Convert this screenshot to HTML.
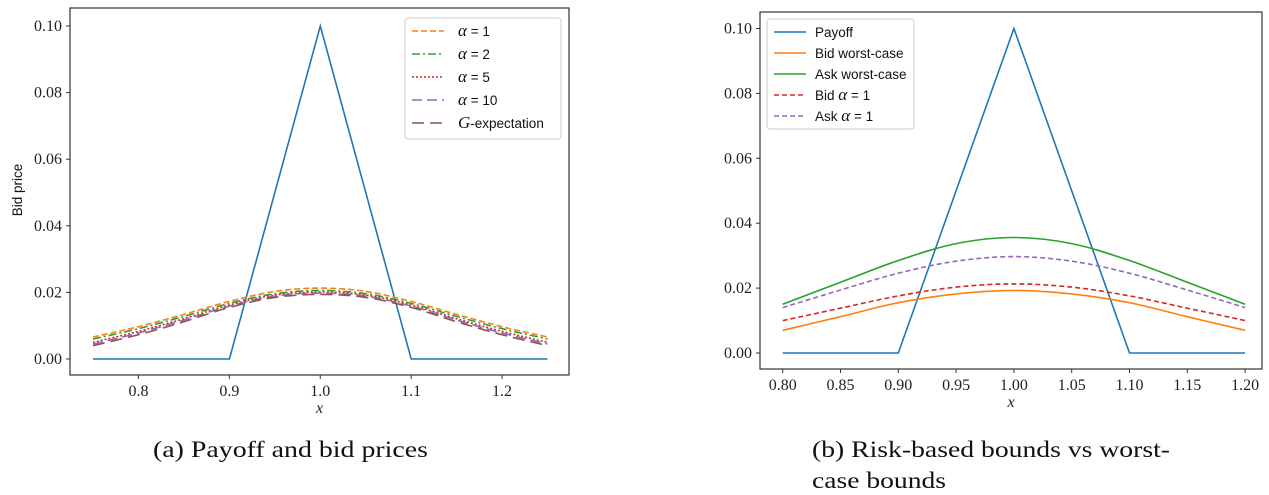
<!DOCTYPE html>
<html><head><meta charset="utf-8"><style>
body{margin:0;background:#fff;width:1269px;height:495px;overflow:hidden}
svg{display:block}
.t{font-family:"Liberation Serif",serif;font-size:16px;fill:#222}
.cap{font-family:"Liberation Serif",serif;font-size:23px;fill:#111}
.lg{font-family:"Liberation Sans",sans-serif;font-size:13.5px;fill:#111}
</style></head><body>
<svg id="s" width="1269" height="495"></svg>
<script>
const xsA=[0.75,0.8,0.85,0.9,0.95,1.0,1.05,1.1,1.15,1.2,1.25];
const payX=[0.75,0.9,1.0,1.1,1.25];
const payY=[0,0,0.1,0,0];
const a1=[0.0066,0.0097,0.0134,0.0173,0.0203,0.0213,0.0203,0.0173,0.0134,0.0097,0.0066];
const a2=[0.0060,0.0091,0.0128,0.0167,0.0196,0.0206,0.0196,0.0167,0.0128,0.0091,0.0060];
const a5=[0.0050,0.0083,0.0121,0.0162,0.0192,0.0201,0.0192,0.0162,0.0121,0.0083,0.0050];
const a10=[0.0045,0.0078,0.0117,0.0159,0.0189,0.0198,0.0189,0.0159,0.0117,0.0078,0.0045];
const gE=[0.0040,0.0073,0.0112,0.0155,0.0185,0.0194,0.0185,0.0155,0.0112,0.0073,0.0040];
const xTicksA=[0.8,0.9,1.0,1.1,1.2];
const yTicks=[0,0.02,0.04,0.06,0.08,0.10];
const xsB=[0.8,0.85,0.9,0.95,1.0,1.05,1.1,1.15,1.2];
const payXB=[0.8,0.9,1.0,1.1,1.2];
const bidW=[0.007,0.0112,0.0155,0.0182,0.0193,0.0182,0.0155,0.0112,0.007];
const askW=[0.015,0.0218,0.0285,0.0337,0.0356,0.0337,0.0285,0.0218,0.015];
const bidA=[0.010,0.0138,0.0176,0.0203,0.0213,0.0203,0.0176,0.0138,0.010];
const askA=[0.014,0.0194,0.0246,0.0283,0.0297,0.0283,0.0246,0.0194,0.014];
const xTicksB=[0.80,0.85,0.90,0.95,1.00,1.05,1.10,1.15,1.20];

const S=document.getElementById('s');const NS='http://www.w3.org/2000/svg';
function el(t,a,txt){const e=document.createElementNS(NS,t);for(const k in a)e.setAttribute(k,a[k]);if(txt!==undefined)e.textContent=txt;S.appendChild(e);return e;}
function smoothPath(P){let d='M'+P[0][0].toFixed(1)+','+P[0][1].toFixed(1);
 for(let i=0;i<P.length-1;i++){const p0=P[Math.max(0,i-1)],p1=P[i],p2=P[i+1],p3=P[Math.min(P.length-1,i+2)];
  const c1x=p1[0]+(p2[0]-p0[0])/6,c1y=p1[1]+(p2[1]-p0[1])/6,c2x=p2[0]-(p3[0]-p1[0])/6,c2y=p2[1]-(p3[1]-p1[1])/6;
  d+='C'+c1x.toFixed(1)+','+c1y.toFixed(1)+' '+c2x.toFixed(1)+','+c2y.toFixed(1)+' '+p2[0].toFixed(1)+','+p2[1].toFixed(1);}
 return d;}
function panel(p){
 const sx=v=>p.x0px+(v-p.x0)*p.kx, sy=v=>p.y0px-v*p.ky;
 const box=el('rect',{x:p.L,y:p.T,width:p.R-p.L,height:p.B-p.T,fill:'none',stroke:'#333','stroke-width':1.2});
 
 
 yTicks.forEach(v=>{const y=sy(v);el('line',{x1:p.L-4,x2:p.L,y1:y,y2:y,stroke:'#333'});
  const t=el('text',{x:p.L-8,y:y+5,'text-anchor':'end',class:'t'},v.toFixed(2));
  
  });
 p.xt.forEach(v=>{const x=sx(v);el('line',{x1:x,x2:x,y1:p.B,y2:p.B+4,stroke:'#333'});
  const t=el('text',{x:x,y:p.B+21,'text-anchor':'middle',class:'t'},v.toFixed(p.dec));
  
  });
 const xl=el('text',{x:(p.L+p.R)/2,y:p.B+38,'text-anchor':'middle',class:'t','font-style':'italic'},'x');
 
 
 p.series.forEach(s=>{
  const P=s.x.map((v,i)=>[sx(v),sy(s.y[i])]);
  const d=s.straight?P.map((q,i)=>(i?'L':'M')+q[0].toFixed(1)+','+q[1].toFixed(1)).join(''):smoothPath(P);
  const a={d:d,fill:'none',stroke:s.c,'stroke-width':1.6};if(s.dash)a['stroke-dasharray']=s.dash;
  const pe=el('path',a);
  
  
 });
 const lg=el('rect',{x:p.lgx,y:p.lgy,width:p.lgw,height:p.lgh,rx:3,fill:'#fff','fill-opacity':0.85,stroke:'#ccc'});
 
 
 let i=0;
 p.series.forEach(s=>{if(!s.lab)return;const y=p.lgy+13+i*p.lgs;i++;
  const a={x1:p.lgx+7,x2:p.lgx+39,y1:y,y2:y,stroke:s.c,'stroke-width':1.6};if(s.dash)a['stroke-dasharray']=s.dash;
  el('line',a);
  const t=el('text',{x:p.lgx+p.lgtx,y:y+5,class:'lg'});t.innerHTML=s.lab;
  
  });
}
const al='<tspan font-family="Liberation Serif" font-style="italic" font-size="17">α</tspan> = ';
panel({id:'left',L:70,R:569,T:8,B:375,x0:0.75,x0px:93,kx:909,y0px:359,ky:3330,xt:xTicksA,dec:1,
 lgx:405,lgy:18,lgw:156,lgh:121,lgs:23,lgtx:53,
 series:[{n:'payoff-line',x:payX,y:payY,c:'#1f77b4',straight:true},
 {n:'alpha-1-line',x:xsA,y:a1,c:'#ff7f0e',dash:'6,3',lab:al+'1'},
 {n:'alpha-2-line',x:xsA,y:a2,c:'#2ca02c',dash:'8,3,2,3',lab:al+'2'},
 {n:'alpha-5-line',x:xsA,y:a5,c:'#d62728',dash:'2,2',lab:al+'5'},
 {n:'alpha-10-line',x:xsA,y:a10,c:'#9467bd',dash:'10,5',lab:al+'10'},
 {n:'g-expectation-line',x:xsA,y:gE,c:'#8c564b',dash:'12,6',lab:'<tspan font-family="Liberation Serif" font-style="italic" font-size="17">G</tspan>-expectation'}]});
panel({id:'right',L:760,R:1262,T:12,B:369,x0:0.8,x0px:782.7,kx:1156,y0px:353,ky:3245,xt:xTicksB,dec:2,
 lgx:767,lgy:19,lgw:147,lgh:110,lgs:21,lgtx:48,
 series:[{n:'payoff-line',x:payXB,y:[0,0,0.1,0,0],c:'#1f77b4',lab:'Payoff',straight:true},
 {n:'bid-worst-case-line',x:xsB,y:bidW,c:'#ff7f0e',lab:'Bid worst-case'},
 {n:'ask-worst-case-line',x:xsB,y:askW,c:'#2ca02c',lab:'Ask worst-case'},
 {n:'bid-alpha-1-line',x:xsB,y:bidA,c:'#d62728',dash:'5,3',lab:'Bid '+al+'1'},
 {n:'ask-alpha-1-line',x:xsB,y:askA,c:'#9467bd',dash:'5,3',lab:'Ask '+al+'1'}]});
const yl=el('text',{x:22,y:190,transform:'rotate(-90 22 190)','text-anchor':'middle',class:'lg','font-size':15},'Bid price');


const c1=el('text',{x:153,y:457,class:'cap',textLength:275,lengthAdjust:'spacingAndGlyphs'},'(a) Payoff and bid prices');


const c2=el('text',{x:812,y:457,class:'cap',textLength:358,lengthAdjust:'spacingAndGlyphs'},'(b) Risk-based bounds vs worst-');


const c3=el('text',{x:812,y:488,class:'cap',textLength:134,lengthAdjust:'spacingAndGlyphs'},'case bounds');


</script>
</body></html>
